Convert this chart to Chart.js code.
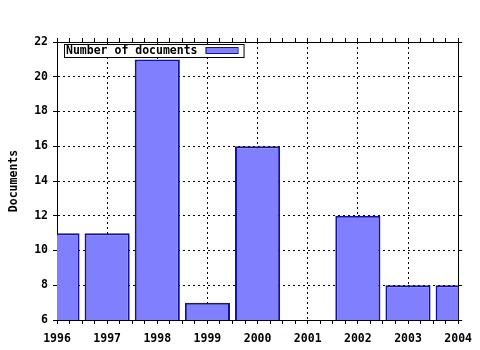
<!DOCTYPE html>
<html>
<head>
<meta charset="utf-8">
<script src="https://cdn.jsdelivr.net/npm/chart.js@4/dist/chart.umd.min.js"></script>
<style>
  body { margin: 0; background: #fff; }
  #wrap { width: 480px; height: 350px; }
</style>
</head>
<body>
<div id="wrap"><canvas id="c" width="480" height="350"></canvas></div>
<script>
const years = [1996, 1997, 1998, 1999, 2000, 2001, 2002, 2003, 2004];
const documents = [11, 11, 21, 7, 16, 6, 12, 8, 8];
const seriesLabel = 'Number of documents';
const yTitle = 'Documents';

const FONT = { family: '"DejaVu Sans Mono", "Liberation Mono", monospace', size: 11.5, weight: 'bold' };
const FILL = '#8080ff';
const EDGE = '#12129a';

const fixSize = (w, h) => (scale) => {
  if (w != null) scale.width = w;
  if (h != null) scale.height = h;
};

// gnuplot-style key, drawn inside the plot area
const keyBox = {
  id: 'keyBox',
  afterDatasetsDraw(chart) {
    const { ctx, chartArea } = chart;
    const ds = chart.data.datasets[0];
    ctx.save();
    ctx.font = `${FONT.weight} ${FONT.size}px ${FONT.family}`;
    const tw = ctx.measureText(ds.label).width;
    const x = chartArea.left + 7, y = chartArea.top + 2;
    const w = 2 + tw + 8 + 32 + 6, h = 13;
    ctx.fillStyle = '#fff';
    ctx.fillRect(x, y, w, h);
    ctx.strokeStyle = '#000';
    ctx.lineWidth = 1;
    ctx.strokeRect(x + 0.5, y + 0.5, w, h);
    ctx.fillStyle = '#000';
    ctx.textBaseline = 'middle';
    ctx.fillText(ds.label, x + 2, y + h / 2 + 1);
    const sx = x + 2 + tw + 8;
    ctx.fillStyle = ds.backgroundColor;
    ctx.fillRect(sx, y + 3, 32, 7);
    ctx.strokeStyle = ds.borderColor;
    ctx.strokeRect(sx + 0.5, y + 3.5, 32, 6);
    ctx.restore();
  }
};

new Chart(document.getElementById('c'), {
  type: 'bar',
  data: {
    datasets: [{
      label: seriesLabel,
      xAxisID: 'xb',
      data: years.map((x, i) => ({ x, y: documents[i] })),
      backgroundColor: FILL,
      borderColor: EDGE,
      borderWidth: { top: 2, left: 2, right: 2, bottom: 0 },
      barPercentage: 0.9,
      categoryPercentage: 1,
    }]
  },
  options: {
    responsive: false,
    animation: false,
    layout: { padding: 0 },
    plugins: { legend: { display: false }, tooltip: { enabled: false } },
    scales: {
      // hidden year axis the bars are sized from
      xb: {
        type: 'linear',
        position: 'bottom',
        display: false,
        offset: false,
        min: 1996, max: 2004,
        ticks: { stepSize: 1 },
        grid: { offset: false },
      },
      x: {
        type: 'linear',
        position: 'bottom',
        offset: false,
        min: 1996, max: 2004,
        afterFit: fixSize(null, 30),
        ticks: {
          stepSize: 0.25,
          autoSkip: false,
          maxRotation: 0,
          padding: 8,
          color: '#000',
          font: FONT,
          callback: v => Number.isInteger(v) ? String(v) : '',
        },
        grid: {
          offset: false,
          color: c => (c.tick && Number.isInteger(c.tick.value)) ? '#000' : 'rgba(0,0,0,0)',
          tickColor: '#000',
          tickLength: 4,
          lineWidth: 1,
        },
        border: { display: true, color: '#000', width: 1, dash: [2, 3] },
      },
      x2: {
        type: 'linear',
        position: 'top',
        offset: false,
        min: 1996, max: 2004,
        afterFit: fixSize(null, 42),
        ticks: { stepSize: 0.25, autoSkip: false, display: false },
        grid: { offset: false, drawOnChartArea: false, tickColor: '#000', tickLength: 4 },
        border: { display: true, color: '#000', width: 1 },
      },
      y: {
        position: 'left',
        min: 6, max: 22,
        afterFit: fixSize(57, null),
        ticks: { stepSize: 2, padding: 5, color: '#000', font: FONT },
        grid: { color: '#000', tickColor: '#000', tickLength: 4, lineWidth: 1 },
        border: { display: true, color: '#000', width: 1, dash: [2, 3] },
        title: { display: true, text: yTitle, color: '#000', font: FONT, padding: { top: 7, bottom: 0 } },
      },
      y2: {
        position: 'right',
        min: 6, max: 22,
        afterFit: fixSize(21, null),
        ticks: { stepSize: 2, display: false },
        grid: { drawOnChartArea: false, tickColor: '#000', tickLength: 4 },
        border: { display: true, color: '#000', width: 1 },
      },
    }
  },
  plugins: [keyBox]
});
</script>
</body>
</html>
